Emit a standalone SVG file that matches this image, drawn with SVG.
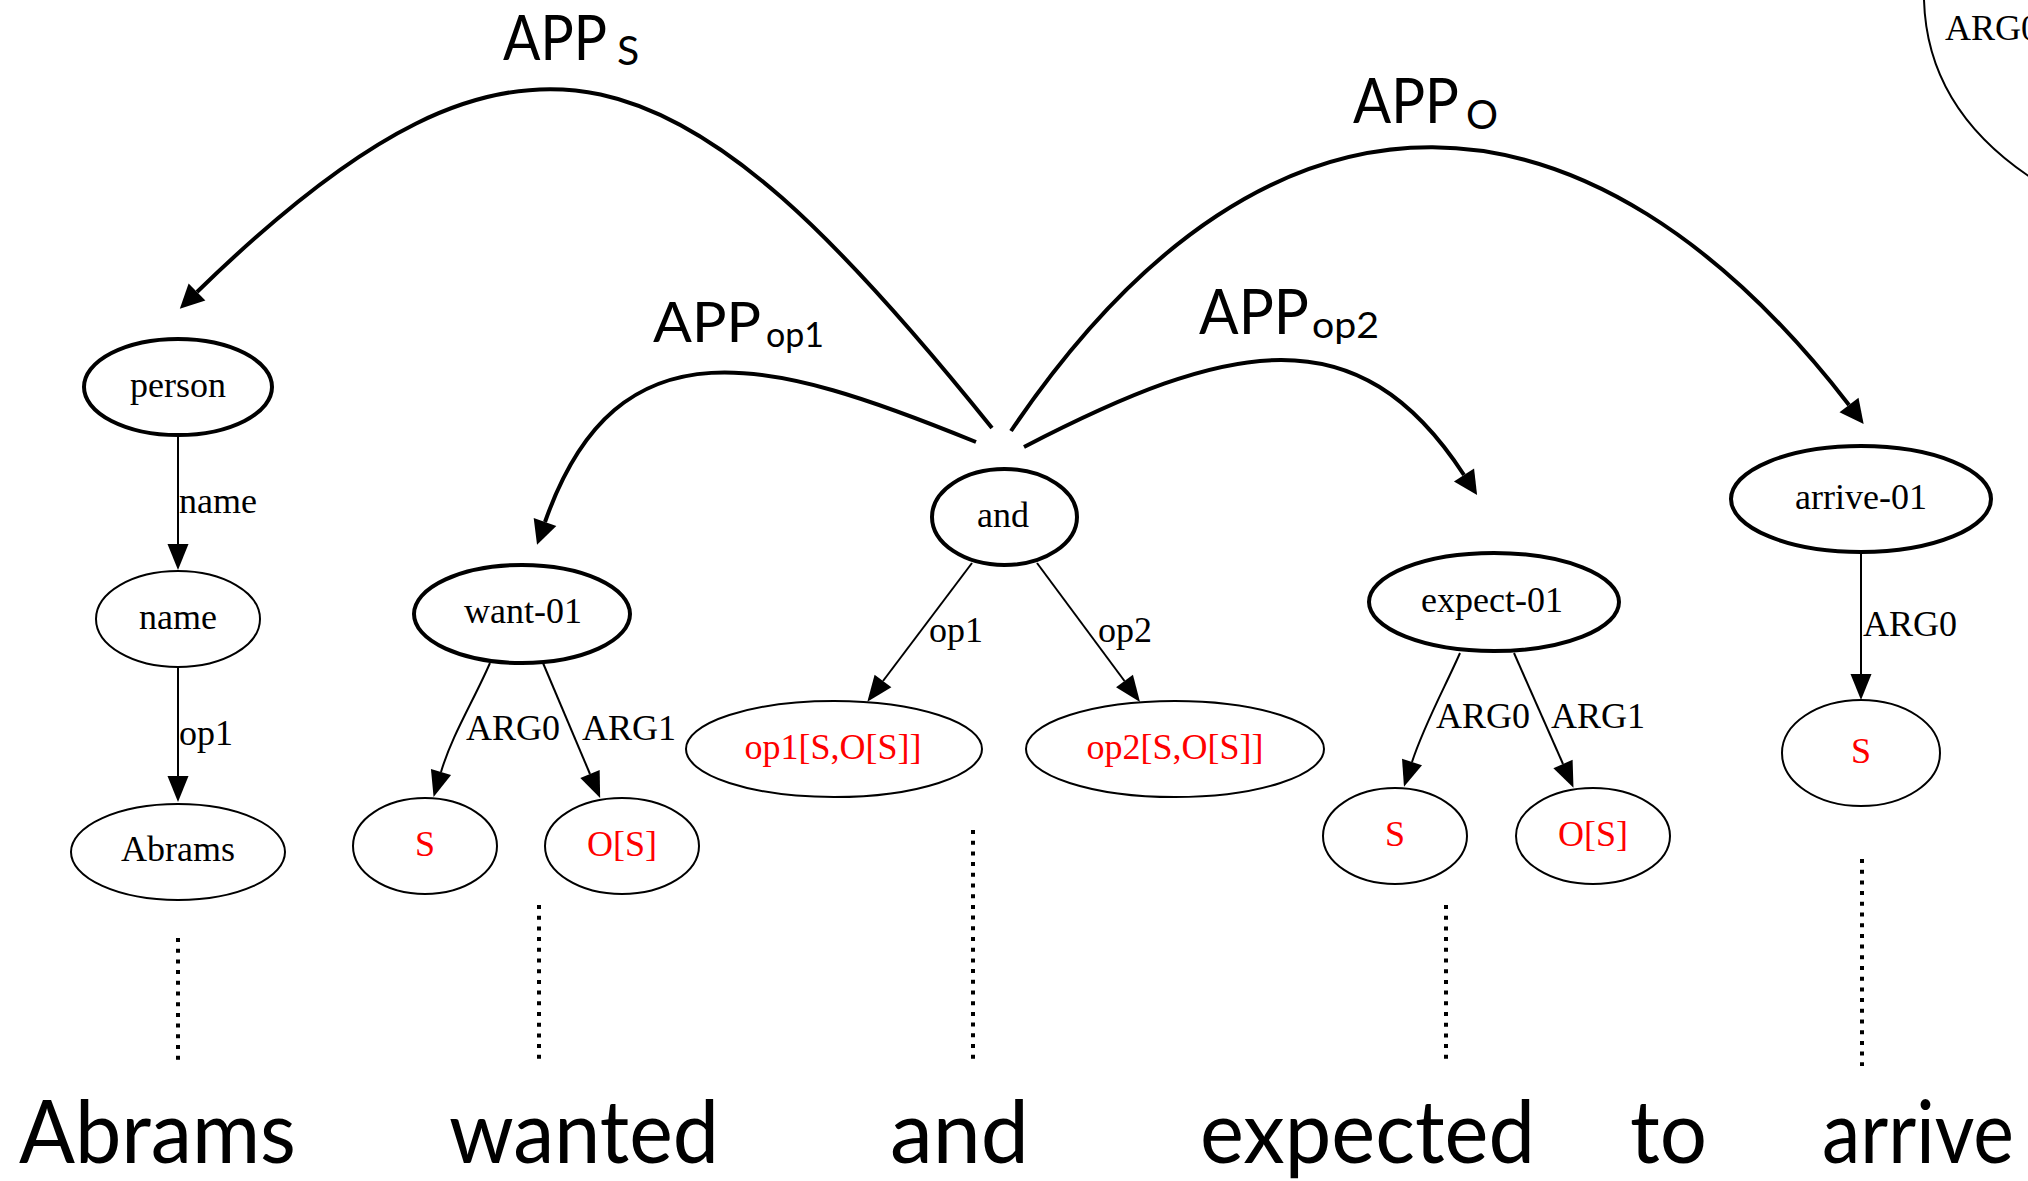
<svg xmlns="http://www.w3.org/2000/svg" width="2028" height="1181" viewBox="0 0 2028 1181">
  <style>
    .thick { fill: none; stroke: #000; stroke-width: 4; }
    .thin { fill: none; stroke: #000; stroke-width: 2; }
    .node-thick { fill: #fff; stroke: #000; stroke-width: 4; }
    .node-thin { fill: #fff; stroke: #000; stroke-width: 2; }
    .lbl { font-family: "Liberation Serif", "Times New Roman", serif; font-size: 36px; fill: #000; }
    .nlbl { font-family: "Liberation Serif", "Times New Roman", serif; font-size: 36px; fill: #000; text-anchor: middle; }
    .red { fill: #ff0000; }
    .app { font-family: Lato, "Open Sans", sans-serif; fill: #000; }
    .word { font-family: Lato, "Open Sans", sans-serif; font-size: 88px; fill: #000; }
    .align { fill: none; stroke: #000; stroke-width: 4; stroke-dasharray: 4 6.7; }
  </style>
  <defs>
    <marker id="ah-thick" markerUnits="userSpaceOnUse" viewBox="0 0 24 24" markerWidth="24" markerHeight="24" refX="0" refY="12" orient="auto" overflow="visible">
      <path d="M0,0 L24,12 L0,24 z" fill="#000"/>
    </marker>
    <marker id="ah-thin" markerUnits="userSpaceOnUse" viewBox="0 0 26 21" markerWidth="26" markerHeight="21" refX="0" refY="10.5" orient="auto" overflow="visible">
      <path d="M0,0 L26,10.5 L0,21 z" fill="#000"/>
    </marker>
  </defs>

  <rect x="0" y="0" width="2028" height="1181" fill="#fff"/>

  <!-- connectors -->
  <g id="connectors">
    <!-- APP operations from "and" -->
    <path class="thick" d="M992,428 C680,40 525,-28 197,292" marker-end="url(#ah-thick)"/>
    <path class="thick" d="M976,442 C772,359 618,314 545,522" marker-end="url(#ah-thick)"/>
    <path class="thick" d="M1011,431 C1274,41 1593,73 1849,405" marker-end="url(#ah-thick)"/>
    <path class="thick" d="M1024,447 C1228.5,341 1357.7,311.6 1464,475" marker-end="url(#ah-thick)"/>

    <!-- graph edges -->
    <path class="thin" d="M178,435 L178,544" marker-end="url(#ah-thin)"/>
    <path class="thin" d="M178,667 L178,776" marker-end="url(#ah-thin)"/>
    <path class="thin" d="M490,663 C474,700 452,735 441,772" marker-end="url(#ah-thin)"/>
    <path class="thin" d="M543,663 L590,774" marker-end="url(#ah-thin)"/>
    <path class="thin" d="M972,563 L883,681" marker-end="url(#ah-thin)"/>
    <path class="thin" d="M1037,563 L1124.5,681" marker-end="url(#ah-thin)"/>
    <path class="thin" d="M1460,653 C1446,685 1424,725 1412,762" marker-end="url(#ah-thin)"/>
    <path class="thin" d="M1514,653 L1563,764" marker-end="url(#ah-thin)"/>
    <path class="thin" d="M1861,553 L1861,674" marker-end="url(#ah-thin)"/>

    <!-- edge labels -->
    <text class="lbl" x="179" y="513">name</text>
    <text class="lbl" x="179" y="745">op1</text>
    <text class="lbl" x="466" y="740">ARG0</text>
    <text class="lbl" x="582" y="740">ARG1</text>
    <text class="lbl" x="929" y="642">op1</text>
    <text class="lbl" x="1098" y="642">op2</text>
    <text class="lbl" x="1436" y="728">ARG0</text>
    <text class="lbl" x="1551" y="728">ARG1</text>
    <text class="lbl" x="1863" y="636">ARG0</text>

    <!-- APP labels -->
    <text class="app" x="503" y="60" font-size="62" textLength="104" lengthAdjust="spacingAndGlyphs">APP</text>
    <text class="app" x="617" y="65" font-size="41">S</text>
    <text class="app" x="653" y="342" font-size="56" textLength="108" lengthAdjust="spacingAndGlyphs">APP</text>
    <text class="app" x="766" y="347" font-size="34" textLength="58" lengthAdjust="spacingAndGlyphs">op1</text>
    <text class="app" x="1199" y="334" font-size="61" textLength="110" lengthAdjust="spacingAndGlyphs">APP</text>
    <text class="app" x="1312" y="338" font-size="36" textLength="67" lengthAdjust="spacingAndGlyphs">op2</text>
    <text class="app" x="1353" y="123" font-size="62" textLength="106" lengthAdjust="spacingAndGlyphs">APP</text>
    <text class="app" x="1466" y="129" font-size="40">O</text>

    <!-- alignment to the sentence -->
    <line class="align" x1="178" y1="938" x2="178" y2="1062"/>
    <line class="align" x1="539" y1="905" x2="539" y2="1062"/>
    <line class="align" x1="973" y1="830" x2="973" y2="1062"/>
    <line class="align" x1="1446" y1="905" x2="1446" y2="1062"/>
    <line class="align" x1="1862" y1="859" x2="1862" y2="1066"/>
  </g>

  <!-- nodes -->
  <g id="node-person">
    <ellipse class="node-thick" cx="178" cy="387" rx="94" ry="48"/>
    <text class="nlbl" x="178" y="397">person</text>
  </g>
  <g id="node-name">
    <ellipse class="node-thin" cx="178" cy="619" rx="82" ry="48"/>
    <text class="nlbl" x="178" y="629">name</text>
  </g>
  <g id="node-abrams">
    <ellipse class="node-thin" cx="178" cy="852" rx="107" ry="48"/>
    <text class="nlbl" x="178" y="861">Abrams</text>
  </g>
  <g id="node-want">
    <ellipse class="node-thick" cx="522" cy="614" rx="108" ry="49"/>
    <text class="nlbl" x="523" y="623">want-01</text>
  </g>
  <g id="node-want-s">
    <ellipse class="node-thin" cx="425" cy="846" rx="72" ry="48"/>
    <text class="nlbl red" x="425" y="856">S</text>
  </g>
  <g id="node-want-os">
    <ellipse class="node-thin" cx="622" cy="846" rx="77" ry="48"/>
    <text class="nlbl red" x="622" y="856">O[S]</text>
  </g>
  <g id="node-and">
    <ellipse class="node-thick" cx="1004.5" cy="517" rx="72.5" ry="48"/>
    <text class="nlbl" x="1003" y="527">and</text>
  </g>
  <g id="node-op1">
    <ellipse class="node-thin" cx="834" cy="749" rx="148" ry="48"/>
    <text class="nlbl red" x="833" y="759">op1[S,O[S]]</text>
  </g>
  <g id="node-op2">
    <ellipse class="node-thin" cx="1175" cy="749" rx="149" ry="48"/>
    <text class="nlbl red" x="1175" y="759">op2[S,O[S]]</text>
  </g>
  <g id="node-expect">
    <ellipse class="node-thick" cx="1494" cy="602" rx="125" ry="49"/>
    <text class="nlbl" x="1492" y="612">expect-01</text>
  </g>
  <g id="node-expect-s">
    <ellipse class="node-thin" cx="1395" cy="836" rx="72" ry="48"/>
    <text class="nlbl red" x="1395" y="846">S</text>
  </g>
  <g id="node-expect-os">
    <ellipse class="node-thin" cx="1593" cy="836" rx="77" ry="48"/>
    <text class="nlbl red" x="1593" y="846">O[S]</text>
  </g>
  <g id="node-arrive">
    <ellipse class="node-thick" cx="1861" cy="499" rx="130" ry="53"/>
    <text class="nlbl" x="1861" y="509">arrive-01</text>
  </g>
  <g id="node-arrive-s">
    <ellipse class="node-thin" cx="1861" cy="753" rx="79" ry="53"/>
    <text class="nlbl red" x="1861" y="763">S</text>
  </g>
  <!-- node running off the top-right edge -->
  <g id="node-offcanvas">
    <path class="thin" d="M1924,0 C1926,70 1960,130 2030,177"/>
    <text class="lbl" x="1945" y="40">ARG0</text>
  </g>

  <!-- sentence -->
  <g id="sentence">
    <text class="word" x="19" y="1163" textLength="277" lengthAdjust="spacingAndGlyphs">Abrams</text>
    <text class="word" x="449" y="1163" textLength="270" lengthAdjust="spacingAndGlyphs">wanted</text>
    <text class="word" x="890" y="1163" textLength="139" lengthAdjust="spacingAndGlyphs">and</text>
    <text class="word" x="1200" y="1163" textLength="335" lengthAdjust="spacingAndGlyphs">expected</text>
    <text class="word" x="1630" y="1163" textLength="77" lengthAdjust="spacingAndGlyphs">to</text>
    <text class="word" x="1822" y="1163" font-size="84" textLength="192" lengthAdjust="spacingAndGlyphs">arrive</text>
  </g>
</svg>
